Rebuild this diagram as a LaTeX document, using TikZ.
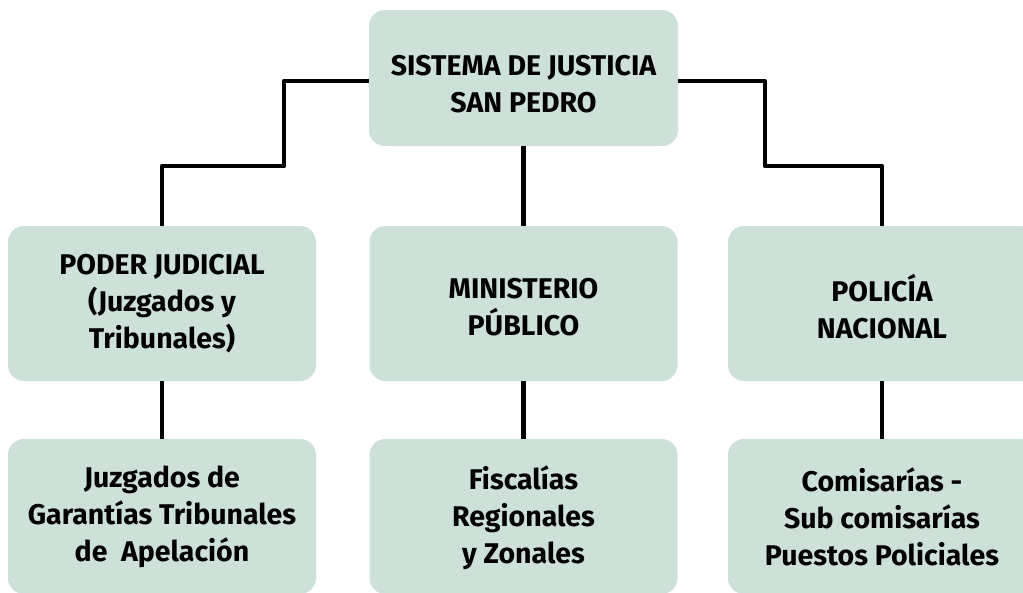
\documentclass[tikz,border=0pt]{standalone}
\usepackage{fontspec}
\setmainfont{Fira Sans}
\definecolor{boxfill}{RGB}{205,225,216}
\begin{document}
\begin{tikzpicture}[x=1pt,y=-1pt,
  box/.style={fill=boxfill, rounded corners=16pt, minimum width=308pt, minimum height=155pt,
    align=center, font=\fontsize{28.5}{37}\selectfont\bfseries, inner sep=0pt},
  link/.style={line width=4.5pt, line join=round}]
\useasboundingbox (0,0) rectangle (1023,592);
\clip (0,0) rectangle (1023,592);
\node[box, minimum height=136pt, minimum width=309pt] (top) at (523.5,78) {\rule{0pt}{32pt}SISTEMA DE JUSTICIA\\SAN PEDRO};
\node[box] (pj) at (162,303.5) {PODER JUDICIAL\\(Juzgados y\\Tribunales)};
\node[box] (mp) at (523.5,303.5) {\rule{0pt}{28pt}MINISTERIO\\PÚBLICO};
\node[box] (pn) at (882,303.5) {\rule{0pt}{33pt}POLICÍA\\NACIONAL};
\node[box] (jz) at (162,516.5) {Juzgados de\\Garantías Tribunales\\de\ \ Apelación};
\node[box] (fr) at (523.5,516.5) {\rule{0pt}{26pt}Fiscalías\\Regionales\\y Zonales};
\node[box] (cm) at (882,516.5) {Comisarías -\\Sub comisarías\\Puestos Policiales};
\draw[link] ([yshift=-3pt]top.west) -| (284,166) -| (pj.north);
\draw[link] ([yshift=-3pt]top.east) -| (765,166) -| (pn.north);
\draw[link] (top.south) -- (mp.north);
\draw[link] (pj.south) -- (jz.north);
\draw[link] (mp.south) -- (fr.north);
\draw[link] (pn.south) -- (cm.north);
\end{tikzpicture}
\end{document}
